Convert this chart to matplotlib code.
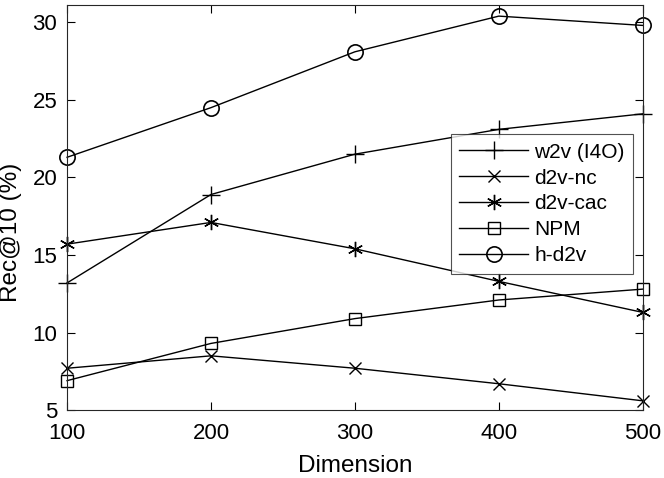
import matplotlib.pyplot as plt

dims = [100, 200, 300, 400, 500]
w2v = [13.2, 18.9, 21.5, 23.1, 24.1]
d2v_nc = [7.7, 8.5, 7.7, 6.7, 5.6]
d2v_cac = [15.7, 17.1, 15.4, 13.3, 11.3]
npm = [6.9, 9.3, 10.9, 12.1, 12.8]
h_d2v = [21.3, 24.5, 28.1, 30.4, 29.8]

plt.rcParams['font.family'] = ['Liberation Sans', 'DejaVu Sans']

fig = plt.figure(figsize=(6.64, 4.78), dpi=100)
ax = fig.add_axes([0.101, 0.142, 0.867, 0.847])

style = dict(color='black', linewidth=1.0, markerfacecolor='none',
             markeredgecolor='black', clip_on=False)
ax.plot(dims, w2v, marker='+', markersize=13, markeredgewidth=1.0, label='w2v (I4O)', **style)
ax.plot(dims, d2v_nc, marker='x', markersize=9, markeredgewidth=1.0, label='d2v-nc', **style)
ax.plot(dims, d2v_cac, marker=(6, 2, 0), markersize=11, markeredgewidth=1.0, label='d2v-cac', **style)
ax.plot(dims, npm, marker='s', markersize=9, markeredgewidth=1.0, label='NPM', **style)
ax.plot(dims, h_d2v, marker='o', markersize=11, markeredgewidth=1.2, label='h-d2v', **style)

ax.set_xlim(100, 500)
ax.set_ylim(5, 31.1)
ax.set_xticks(dims)
ax.set_yticks([5, 10, 15, 20, 25, 30])
ax.tick_params(direction='in', top=True, right=True, labelsize=16, length=6, width=0.8, pad=7)
ax.tick_params(axis='x', pad=9)
for s in ax.spines.values():
    s.set_linewidth(0.8)
    s.set_color('#262626')
ax.set_xlabel('Dimension', fontsize=17.5)
ax.set_ylabel('Rec@10 (%)', fontsize=17.5)
ax.xaxis.set_label_coords(0.5, -0.112)
ax.yaxis.set_label_coords(-0.078, 0.44)

leg = ax.legend(loc='upper right', bbox_to_anchor=(0.983, 0.681), fontsize=15,
                frameon=True, fancybox=False, edgecolor='#262626', handlelength=3.3,
                borderpad=0.4, labelspacing=0.33, handletextpad=0.3, borderaxespad=0)
leg.get_frame().set_linewidth(0.8)

fig.savefig('out.png', dpi=100)
